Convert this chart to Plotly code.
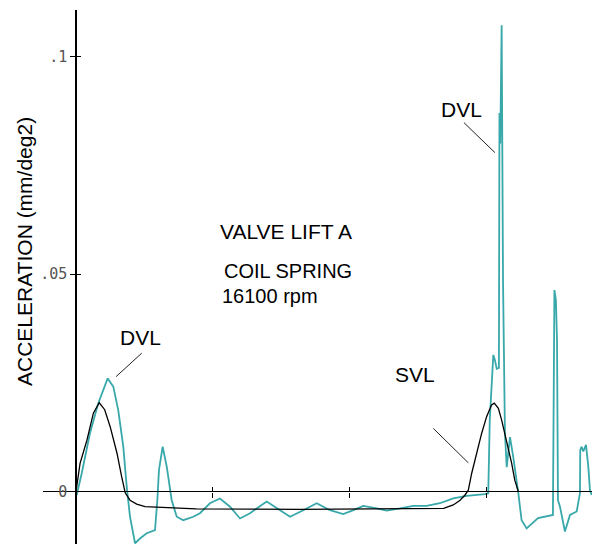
import plotly.graph_objects as go

# ---- data ----
# SVL: static valve lift acceleration (black)
svl_x = [0, 3, 8, 12.7, 17, 21, 25, 30, 33.4, 36, 39.5, 44.4, 50.5, 56.5, 88, 164,
         269, 276, 281, 284.6, 287, 289.5, 293, 296.8, 300.4, 304, 306, 309, 311.4,
         315, 318.7, 321, 323.6]
svl_y = [0, 0.0065, 0.0118, 0.018, 0.0204, 0.0188, 0.0149, 0.0088, 0.0034, -0.0003,
         -0.002, -0.0029, -0.0035, -0.0036, -0.0040, -0.0041, -0.0039, -0.0031, -0.002,
         -0.0008, 0.0003, 0.0042, 0.0088, 0.0134, 0.0172, 0.0199, 0.0203, 0.0191,
         0.0164, 0.0118, 0.0065, 0.0026, 0]

# DVL: dynamic valve lift acceleration (teal)
dvl_x = [0.5, 4.2, 10.2, 16.3, 23.2, 27.3, 30.9, 34.6, 37.1, 39.5, 43.2, 46.8, 51.7,
         57.8, 59.5, 60.7, 63.4, 66.4, 70.0, 73.7, 78.5, 85.8, 90.7, 98.0, 105.3,
         112.7, 120.0, 127.3, 139.5, 149.2, 156.6, 166.3, 176.1, 185.8, 195.5, 202.9,
         210.2, 220.0, 227.3, 237.0, 246.7, 256.5, 266.2, 276.0, 285.8, 299.2, 301.6,
         302.7, 304.3, 305.3, 306.5, 307.8, 309.4, 309.8, 310.4, 311.4, 312.4, 313.8,
         315.1, 317.5, 318.7, 319.9, 323.6, 326.0, 329.7, 338.0, 348.9, 350.0, 351.1,
         351.9, 352.6, 354.1, 357.7, 361.4, 366.3, 368.7, 368.9, 369.9, 371.1, 373.1,
         374.8, 376.0, 377.3]
dvl_y = [-0.0008, 0.0042, 0.0134, 0.0203, 0.0260, 0.0241, 0.0187, 0.0103, 0.0011,
         -0.0058, -0.0119, -0.0108, -0.0096, -0.0089, -0.0020, 0.0049, 0.0103, 0.0057,
         -0.0020, -0.0058, -0.0066, -0.0058, -0.0050, -0.0027, -0.0016, -0.0035,
         -0.0062, -0.0050, -0.0023, -0.0043, -0.0058, -0.0043, -0.0027, -0.0043,
         -0.0052, -0.0043, -0.0033, -0.0039, -0.0044, -0.0039, -0.0033, -0.0033,
         -0.0027, -0.0016, -0.0010, -0.0006, -0.0004, 0.0164, 0.0279, 0.0314, 0.0302,
         0.0282, 0.0284, 0.0870, 0.0800, 0.1072, 0.0486, 0.0135, 0.0056, 0.0125,
         0.0102, 0.0079, -0.0004, -0.0066, -0.0085, -0.0061, -0.0054, 0.0463, 0.0440,
         0.0348, -0.0020, -0.0035, -0.0092, -0.0054, -0.0046, -0.0004, 0.0095, 0.0103,
         0.0092, 0.0107, 0.0057, 0.0003, -0.0008]

y_tick_vals = [0, 0.05, 0.1]
y_tick_text = ["0", ".05", ".1"]
x_tick_vals = [100, 200, 300]

X_RANGE = [-24.14, 377.5]
Y_RANGE = [-0.01207, 0.11069]

# paper positions of the axis lines (x=0 and y=0)
Q = (0 - X_RANGE[0]) / (X_RANGE[1] - X_RANGE[0])
P = (0 - Y_RANGE[0]) / (Y_RANGE[1] - Y_RANGE[0])

TEAL = "#38a8aa"
FONT = "Liberation Sans, Arial, sans-serif"

fig = go.Figure()
fig.add_trace(go.Scatter(x=dvl_x, y=dvl_y, mode="lines", name="DVL",
                         line=dict(color=TEAL, width=1.8), xaxis="x", yaxis="y",
                         hoverinfo="skip"))
fig.add_trace(go.Scatter(x=svl_x, y=svl_y, mode="lines", name="SVL",
                         line=dict(color="black", width=1.3), xaxis="x2", yaxis="y2",
                         hoverinfo="skip"))

common_x = dict(range=X_RANGE, showgrid=False, zeroline=False, tickvals=x_tick_vals,
                showticklabels=False, tickcolor="black", tickwidth=1.3,
                anchor="free", position=P, fixedrange=True)
common_y = dict(range=Y_RANGE, showgrid=False, zeroline=False, tickvals=y_tick_vals,
                tickcolor="black", tickwidth=1.3, anchor="free", position=Q,
                fixedrange=True)

ann_font = dict(family=FONT, size=21, color="black")
small_font = dict(family=FONT, size=20, color="black")
annotations = [
    dict(x=-0.0346, y=0.5468, xref="paper", yref="paper", text="ACCELERATION (mm/deg2)",
         textangle=-90, showarrow=False, font=ann_font, xanchor="center", yanchor="middle"),
    dict(x=103.9, y=0.0597, xref="x", yref="y", text="VALVE LIFT A", showarrow=False,
         font=ann_font, xanchor="left", yanchor="middle"),
    dict(x=106.6, y=0.0507, xref="x", yref="y", text="COIL SPRING", showarrow=False,
         font=small_font, xanchor="left", yanchor="middle"),
    dict(x=105.3, y=0.0449, xref="x", yref="y", text="16100 rpm", showarrow=False,
         font=small_font, xanchor="left", yanchor="middle"),
    dict(x=47.5, y=0.0354, xref="x", yref="y", text="DVL", showarrow=False,
         font=ann_font, xanchor="center", yanchor="middle"),
    dict(x=248.0, y=0.0268, xref="x", yref="y", text="SVL", showarrow=False,
         font=ann_font, xanchor="center", yanchor="middle"),
    dict(x=281.8, y=0.0879, xref="x", yref="y", text="DVL", showarrow=False,
         font=ann_font, xanchor="center", yanchor="middle"),
]

leader = dict(color="#222222", width=1)
shapes = [
    dict(type="line", xref="x", yref="y", x0=48.1, y0=0.0318, x1=29.3, y1=0.0264, line=leader),
    dict(type="line", xref="x", yref="y", x0=261.4, y0=0.0145, x1=287.0, y1=0.0066, line=leader),
    dict(type="line", xref="x", yref="y", x0=283.8, y0=0.0848, x1=306.5, y1=0.0779, line=leader),
]

fig.update_layout(
    width=600, height=544,
    # the page body adds an 8px offset; margins compensate so the plot sits as in the reference
    margin=dict(l=35, r=16, t=2, b=8),
    paper_bgcolor="white", plot_bgcolor="white",
    showlegend=False,
    xaxis=dict(**common_x, showline=True, linecolor="black", linewidth=1.3,
               ticks="outside", ticklen=5),
    xaxis2=dict(**common_x, overlaying="x", side="bottom", ticks="inside", ticklen=4,
                showline=False),
    yaxis=dict(**common_y, showline=True, linecolor="black", linewidth=1.5,
               ticks="outside", ticklen=5, ticktext=y_tick_text,
               tickfont=dict(family="DejaVu Sans Mono, monospace", size=15, color="#555555")),
    yaxis2=dict(**common_y, overlaying="y", side="left", ticks="inside", ticklen=4,
                showline=False, showticklabels=False),
    annotations=annotations,
    shapes=shapes,
)

fig.write_html("out.html")
